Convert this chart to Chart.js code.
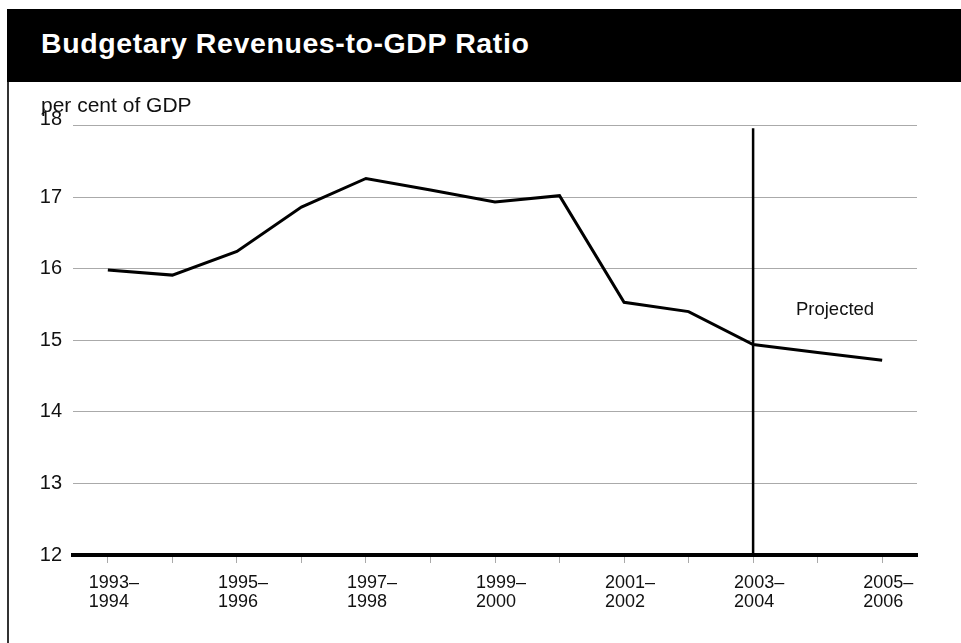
<!DOCTYPE html>
<html><head><meta charset="utf-8">
<script src="https://cdn.jsdelivr.net/npm/chart.js@4/dist/chart.umd.min.js"></script>
<style>
html,body{margin:0;padding:0;background:#fff;width:961px;height:643px;overflow:hidden;}
#hdr{position:absolute;left:7px;top:9px;width:954px;height:73px;background:#000;}
#title{position:absolute;left:41px;top:29px;color:#fff;font:bold 28.5px "Liberation Sans",Arial,sans-serif;line-height:1;letter-spacing:0.6px;white-space:nowrap;}
#lb{position:absolute;left:7px;top:82px;width:2px;height:561px;background:#333;}
#unit{position:absolute;left:41px;top:94px;font:21px "Liberation Sans",Arial,sans-serif;line-height:1;color:#111;white-space:nowrap;}
canvas{position:absolute;left:0;top:0;}
</style></head>
<body>
<canvas id="c" width="961" height="643"></canvas>
<div id="hdr"></div>
<div id="title">Budgetary Revenues-to-GDP Ratio</div>
<div id="lb"></div>
<div id="unit">per cent of GDP</div>
<script>
const categories = ['1993–1994','1994–1995','1995–1996','1996–1997','1997–1998','1998–1999','1999–2000','2000–2001','2001–2002','2002–2003','2003–2004','2004–2005','2005–2006'];
const revenues = [15.98, 15.91, 16.24, 16.86, 17.26, 17.10, 16.93, 17.02, 15.53, 15.40, 14.94, 14.83, 14.72];
const yTicks = [12, 13, 14, 15, 16, 17, 18];
const projectionStart = '2003–2004';
const projectionLineTop = 17.96;
const projectedLabel = 'Projected';
const projectedLabelPos = {x: 11.27, y: 15.43};

const FONT = '"Liberation Sans", Arial, sans-serif';
const projIdx = categories.indexOf(projectionStart);
const yTop = yTicks[yTicks.length - 1];

const textPlugin = {
  id: 'textPlugin',
  afterDraw(chart) {
    const ctx = chart.ctx;
    const xs = chart.scales.x, ys = chart.scales.y;
    ctx.save();
    ctx.fillStyle = '#111';
    ctx.font = '18.5px ' + FONT;
    ctx.textAlign = 'center';
    ctx.textBaseline = 'middle';
    ctx.fillText(projectedLabel, xs.getPixelForValue(projectedLabelPos.x), ys.getPixelForValue(projectedLabelPos.y));
    ctx.restore();
  }
};

new Chart(document.getElementById('c'), {
  type: 'line',
  data: {
    datasets: [
      {
        data: revenues.map((v, i) => ({x: i, y: v})),
        borderColor: '#000', borderWidth: 3, pointRadius: 0, tension: 0, fill: false,
        borderJoinStyle: 'miter', clip: false
      },
      {
        data: [{x: projIdx, y: yTicks[0]}, {x: projIdx, y: projectionLineTop}],
        borderColor: '#000', borderWidth: 2.5, pointRadius: 0, fill: false, clip: false
      }
    ]
  },
  options: {
    responsive: false,
    animation: false,
    events: [],
    layout: {padding: {top: 125.5, right: 44, bottom: 0, left: 0}},
    plugins: {legend: {display: false}, tooltip: {enabled: false}, title: {display: false}},
    scales: {
      x: {
        type: 'linear', min: -0.54, max: categories.length - 1 + 0.54,
        afterFit: s => { s.height = 88; },
        grid: {drawOnChartArea: false, drawTicks: true, tickLength: 8, color: '#aaa', tickColor: '#aaa', lineWidth: 1},
        border: {display: true, color: '#000', width: 4},
        ticks: {
          stepSize: 1, includeBounds: false, autoSkip: false, maxRotation: 0, minRotation: 0,
          align: 'start', labelOffset: -19, padding: 11, color: '#111',
          font: {size: 18, family: FONT, lineHeight: 1.05},
          callback: v => {
            if (!Number.isInteger(v) || v % 2 !== 0) return '';
            const parts = categories[v].split('–');
            return [parts[0] + '–', parts[1]];
          }
        }
      },
      y: {
        min: yTicks[0], max: yTop,
        afterFit: s => { s.width = 73; },
        afterBuildTicks: s => { s.ticks = yTicks.map(v => ({value: v})); },
        grid: {color: '#aaa', drawTicks: false, lineWidth: c => (c.tick && c.tick.value === yTicks[0]) ? 0 : 1},
        border: {display: false},
        ticks: {
          padding: 11, color: '#111', font: {size: 20, family: FONT, lineHeight: 0.65},
          callback: v => v === yTop ? [String(v), ''] : String(v)
        }
      }
    }
  },
  plugins: [textPlugin]
});
</script>
</body></html>
